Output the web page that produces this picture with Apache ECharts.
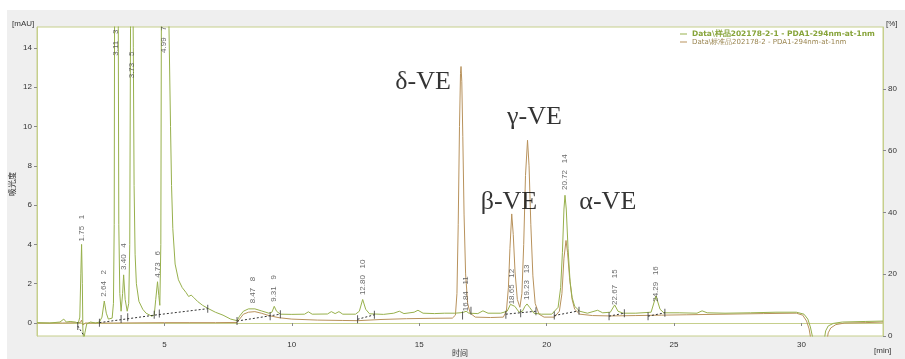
<!DOCTYPE html>
<html>
<head>
<meta charset="utf-8">
<script src="https://cdn.jsdelivr.net/npm/echarts@6.0.0/dist/echarts.min.js"></script>
<style>
html, body { margin: 0; padding: 0; background: #ffffff; }
#chart { width: 905px; height: 359px; }
</style>
</head>
<body>
<div id="chart"></div>
<script>
// Trace names
const sampleName = 'Data\\样品202178-2-1 - PDA1-294nm-at-1nm';
const standardName = 'Data\\标准品202178-2 - PDA1-294nm-at-1nm';

// Sample trace [time (min), absorbance (mAU)]
const sampleTrace = [
  [0.0,0.02],[0.5,0.0],[0.9,0.05],[1.05,0.2],[1.15,0.05],[1.3,0.08],[1.5,0.05],[1.62,0.0],
  [1.68,0.3],[1.72,2.5],[1.75,4.0],[1.78,2.0],[1.8,-0.3],[1.83,-0.9],[1.88,-0.5],[1.95,-0.05],
  [2.1,0.05],[2.3,0.0],[2.45,0.05],[2.55,0.3],[2.64,1.12],[2.72,0.5],[2.8,0.2],[2.95,0.25],
  [3.0,1.0],[3.03,5],[3.05,20],[3.07,30],[3.17,30],[3.19,15],[3.21,5],[3.25,1.5],[3.3,0.6],
  [3.36,1.5],[3.4,2.45],[3.46,1.2],[3.54,0.6],[3.6,1.0],[3.64,4],[3.67,15],[3.69,30],
  [3.76,30],[3.78,14],[3.81,7],[3.85,3.5],[3.9,2.0],[4.0,1.1],[4.15,0.7],[4.28,0.5],
  [4.5,0.35],[4.6,0.4],[4.66,1.2],[4.73,2.1],[4.78,1.4],[4.82,0.9],[4.86,4],[4.88,15],
  [4.9,30],[5.04,30],[5.18,15],[5.24,10],[5.28,7],[5.33,4.8],[5.42,3.0],[5.55,2.2],
  [5.7,1.8],[5.85,1.55],[5.95,1.35],[6.05,1.42],[6.15,1.3],[6.3,1.1],[6.5,0.9],[6.7,0.75],
  [7.0,0.55],[7.3,0.4],[7.6,0.2],[7.85,0.12],[7.95,0.35],[8.1,0.6],[8.3,0.72],[8.55,0.72],
  [8.8,0.62],[9.1,0.5],[9.22,0.55],[9.31,0.85],[9.4,0.6],[9.55,0.45],[10.0,0.44],[10.5,0.45],
  [10.65,0.57],[10.8,0.45],[11.4,0.46],[11.55,0.58],[11.7,0.48],[11.85,0.58],[12.0,0.45],
  [12.5,0.45],[12.65,0.6],[12.78,1.2],[12.9,0.7],[13.05,0.47],[13.6,0.44],[14.0,0.5],
  [14.22,0.6],[14.4,0.48],[14.8,0.55],[14.95,0.65],[15.15,0.5],[15.6,0.48],[16.0,0.5],
  [16.4,0.5],[16.6,0.52],[16.75,0.55],[16.84,0.6],[16.95,0.5],[17.3,0.48],[17.5,0.62],
  [17.7,0.5],[18.2,0.5],[18.45,0.6],[18.58,0.95],[18.65,1.05],[18.75,0.85],[18.92,0.55],
  [19.05,0.6],[19.15,0.85],[19.23,0.97],[19.33,0.8],[19.5,0.5],[19.8,0.45],[20.2,0.45],
  [20.45,0.8],[20.55,1.8],[20.62,3.6],[20.68,5.8],[20.72,6.5],[20.77,5.8],[20.84,3.8],
  [20.92,2.1],[21.0,1.3],[21.1,0.85],[21.3,0.6],[21.6,0.5],[22.0,0.65],[22.2,0.52],
  [22.5,0.55],[22.67,0.92],[22.8,0.6],[23.0,0.5],[23.5,0.5],[24.1,0.55],[24.29,1.38],
  [24.45,0.7],[24.6,0.52],[25.2,0.52],[25.9,0.5],[26.1,0.62],[26.3,0.52],[27.0,0.5],
  [28.0,0.52],[29.0,0.55],[29.8,0.55],[30.1,0.45],[30.25,0.2],[30.35,-0.2],[30.45,-0.8],
  [30.9,-0.8],[30.95,-0.4],[31.05,-0.15],[31.25,-0.02],[31.6,0.05],[32.5,0.08],[33.2,0.1]
];

// Standard trace [time (min), absorbance (mAU)]
const standardTrace = [
  [0.0,0.0],[1.0,0.0],[1.7,0.02],[1.75,0.15],[1.8,-0.1],[1.9,0.0],[3.0,0.0],[5.0,0.02],
  [6.0,0.02],[7.0,0.02],[7.85,0.03],[7.95,0.2],[8.1,0.45],[8.3,0.55],[8.55,0.58],[8.8,0.5],
  [9.1,0.38],[9.5,0.27],[10.0,0.2],[11.0,0.15],[12.0,0.13],[12.6,0.12],[13.5,0.18],
  [14.5,0.22],[15.5,0.24],[16.3,0.25],[16.42,0.4],[16.48,1.5],[16.53,5],[16.58,10],
  [16.62,12.7],[16.64,13.05],[16.67,12.3],[16.71,9.5],[16.76,5.5],[16.82,2.5],[16.9,1.0],
  [17.0,0.5],[17.2,0.3],[17.8,0.28],[18.3,0.3],[18.42,0.6],[18.5,1.8],[18.56,3.8],
  [18.63,5.55],[18.69,4.5],[18.76,2.6],[18.85,1.2],[18.95,0.8],[19.03,1.5],[19.1,4.0],
  [19.17,7.5],[19.25,9.3],[19.31,8.0],[19.38,5.0],[19.46,2.4],[19.55,1.0],[19.7,0.45],
  [19.9,0.3],[20.3,0.3],[20.5,0.6],[20.6,1.5],[20.68,3.3],[20.76,4.2],[20.82,3.6],
  [20.9,2.3],[21.0,1.2],[21.1,0.7],[21.3,0.45],[21.8,0.38],[22.5,0.36],[23.5,0.38],
  [24.5,0.4],[25.5,0.42],[27.0,0.45],[28.5,0.48],[29.8,0.5],[30.05,0.4],[30.2,0.1],
  [30.3,-0.3],[30.38,-0.9],[31.0,-0.9],[31.05,-0.5],[31.15,-0.25],[31.35,-0.08],
  [31.7,0.0],[32.5,0.02],[33.2,0.05]
];

// Integration baselines (segments separated by null)
const integBaseline = [
  [1.6,-0.15],[1.82,-0.6],null,
  [2.45,0.02],[4.6,0.4],[6.7,0.73],null,
  [7.85,0.1],[9.55,0.45],null,
  [12.58,0.19],[13.24,0.42],null,
  [18.4,0.45],[19.58,0.6],null,
  [20.3,0.38],[21.27,0.62],null,
  [22.45,0.35],[23.05,0.5],null,
  [23.98,0.35],[24.64,0.52]
];

// Peak start/end markers
const peakMarkers = [
  [1.6,-0.15],[2.45,0.02],[3.3,0.2],[3.56,0.3],[4.6,0.42],[4.8,0.48],[6.7,0.73],
  [7.85,0.1],[9.15,0.35],[9.55,0.45],[12.58,0.19],[13.24,0.42],[16.7,0.38],[17.03,0.62],
  [18.4,0.42],[18.98,0.5],[19.58,0.6],[20.3,0.38],[21.27,0.62],[22.45,0.35],[23.05,0.5],
  [23.98,0.35],[24.64,0.52]
];

// Peak retention times, peak numbers and label base heights
const peakTimes  = [1.75, 2.64, 3.11, 3.40, 3.73, 4.73, 4.99, 8.47, 9.31, 12.80, 16.84, 18.65, 19.23, 20.72, 22.67, 24.29];
const peakNos    = [1, 2, 3, 4, 5, 6, 7, 8, 9, 10, 11, 12, 13, 14, 15, 16];
const peakLabelY = [4.15, 1.34, 13.6, 2.7, 12.45, 2.3, 13.74, 1.0, 1.08, 1.42, 0.6, 0.95, 1.17, 6.77, 0.92, 1.08];

// Compound names
const compoundNames = ['δ-VE', 'γ-VE', 'β-VE', 'α-VE'];
const compoundPos   = [[15.15, 12.26], [19.52, 10.48], [18.52, 6.16], [22.4, 6.16]];

// Axis ticks
const leftTicks  = [0, 2, 4, 6, 8, 10, 12, 14];
const rightTicks = [0, 20, 40, 60, 80];
const timeTicks  = [5, 10, 15, 20, 25, 30];

const GREEN = '#97b04c';
const BROWN = '#b8925c';
const FRAME = '#c6cf8c';
const TXT = '#333333';
const AXFONT = 'Liberation Sans';

const peakLabelData = peakTimes.map((t, i) => ({
  value: [t, peakLabelY[i]],
  label: { formatter: t.toFixed(2) + '   ' + peakNos[i] }
}));
const compoundData = compoundNames.map((n, i) => ({ value: compoundPos[i], label: { formatter: n } }));

const chart = echarts.init(document.getElementById('chart'), null, { renderer: 'canvas' });

chart.setOption({
  animation: false,
  backgroundColor: 'transparent',
  graphic: [
    { type: 'rect', z: -10, shape: { x: 7, y: 10, width: 898, height: 349 }, style: { fill: '#efefef' }, silent: true },
    { type: 'text', left: 12, top: 20, style: { text: '[mAU]', fontSize: 8, fontFamily: AXFONT, fill: TXT } },
    { type: 'text', left: 886, top: 20, style: { text: '[%]', fontSize: 8, fontFamily: AXFONT, fill: TXT } },
    { type: 'text', left: 874, top: 347, style: { text: '[min]', fontSize: 8, fontFamily: AXFONT, fill: TXT } },
    { type: 'text', left: 452, top: 349, style: { text: '时间', fontSize: 8, fontFamily: 'Noto Sans CJK SC', fill: TXT } },
    { type: 'text', x: 12, y: 184, rotation: Math.PI / 2,
      style: { text: '吸光度', fontSize: 8, fontFamily: 'Noto Sans CJK SC', fill: TXT, align: 'center', verticalAlign: 'middle' } }
  ],
  grid: {
    left: 37, right: 22, top: 27, bottom: 23,
    show: true, backgroundColor: '#ffffff', borderColor: FRAME, borderWidth: 1
  },
  legend: {
    left: 680, top: 30, orient: 'vertical', itemGap: 0, padding: 0,
    itemWidth: 7, itemHeight: 1, icon: 'rect',
    data: [
      { name: sampleName, textStyle: { color: '#87a43a', fontWeight: 'bold', fontSize: 7.5, fontFamily: 'DejaVu Sans', lineHeight: 8 } },
      { name: standardName, textStyle: { color: '#9a8550', fontSize: 7, fontFamily: 'DejaVu Sans', lineHeight: 8 } }
    ]
  },
  xAxis: {
    type: 'value', min: 0, max: 33.2,
    axisLine: { lineStyle: { color: FRAME } },
    axisTick: { length: 3, lineStyle: { color: '#888' }, customValues: timeTicks },
    axisLabel: { customValues: timeTicks, fontSize: 8, fontFamily: AXFONT, color: TXT, margin: 5 },
    splitLine: { show: false }
  },
  yAxis: [
    {
      type: 'value', min: -0.66, max: 15.06,
      axisLine: { show: true, lineStyle: { color: FRAME } },
      axisTick: { show: true, length: 3, lineStyle: { color: '#888' }, customValues: leftTicks },
      axisLabel: { customValues: leftTicks, fontSize: 8, fontFamily: AXFONT, color: TXT, margin: 5 },
      splitLine: { show: false }
    },
    {
      type: 'value', min: 0, max: 100, position: 'right',
      axisLine: { show: true, lineStyle: { color: FRAME } },
      axisTick: { show: true, length: 3, lineStyle: { color: '#888' }, customValues: rightTicks },
      axisLabel: { customValues: rightTicks, fontSize: 8, fontFamily: AXFONT, color: TXT, margin: 5 },
      splitLine: { show: false }
    }
  ],
  series: [
    {
      name: standardName, type: 'line', data: standardTrace, showSymbol: false, z: 3,
      color: BROWN, lineStyle: { width: 1, color: BROWN }, silent: true
    },
    {
      name: sampleName, type: 'line', data: sampleTrace, showSymbol: false, z: 4,
      color: GREEN, lineStyle: { width: 1, color: GREEN }, silent: true
    },
    {
      type: 'line', data: integBaseline, showSymbol: false, connectNulls: false, z: 5,
      lineStyle: { width: 1, color: '#333', type: [2, 2] }, silent: true
    },
    {
      type: 'scatter', data: peakMarkers, symbol: 'rect', symbolSize: [1, 8], z: 6,
      itemStyle: { color: '#333' }, silent: true
    },
    {
      type: 'scatter', data: peakLabelData, symbolSize: 0, z: 7, silent: true,
      label: {
        show: true, position: 'inside', rotate: 90, align: 'left', verticalAlign: 'middle',
        fontSize: 8, fontFamily: AXFONT, color: '#444'
      }
    },
    {
      type: 'scatter', data: compoundData, symbolSize: 0, z: 7, silent: true,
      label: {
        show: true, position: 'inside', align: 'center', verticalAlign: 'middle',
        fontSize: 26, fontFamily: 'Liberation Serif', color: '#000'
      }
    }
  ]
});
</script>
</body>
</html>
